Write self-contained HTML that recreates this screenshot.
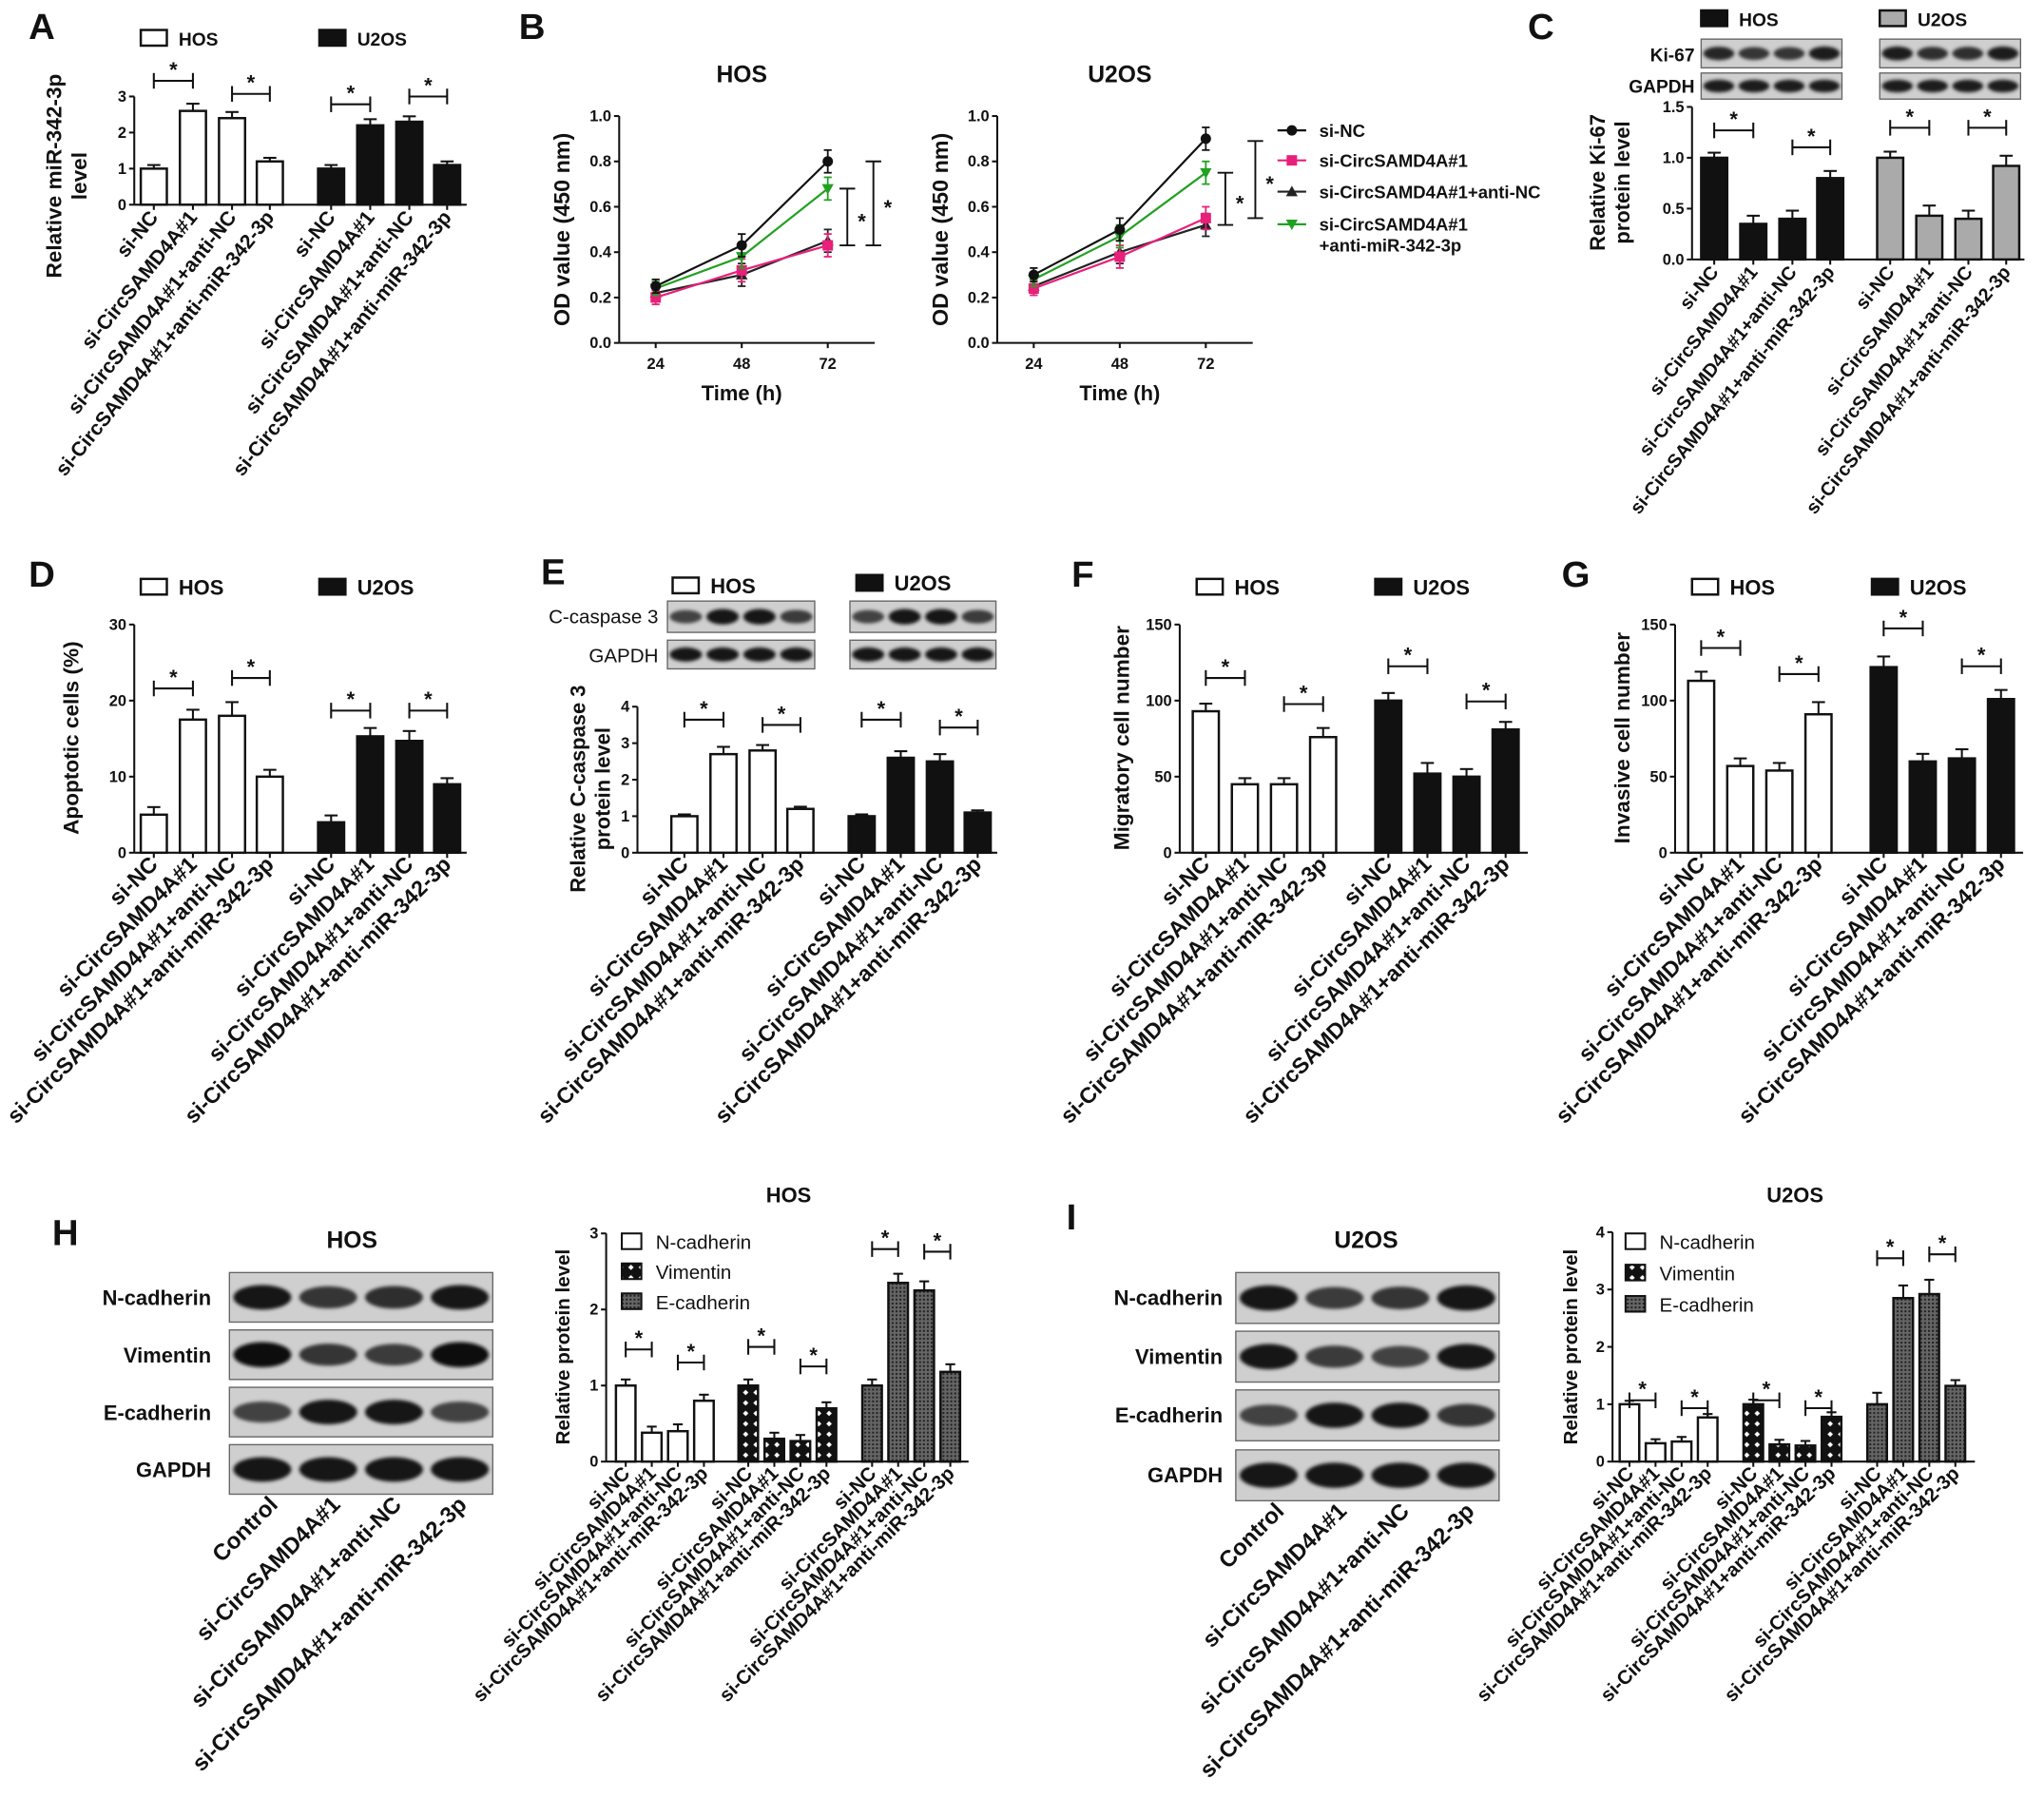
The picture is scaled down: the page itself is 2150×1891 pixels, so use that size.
<!DOCTYPE html>
<html><head><meta charset="utf-8">
<style>
html,body{margin:0;padding:0;background:#fff;}
svg{display:block;}
text{font-family:"Liberation Sans",Arial,sans-serif;fill:#111;}
</style></head>
<body>
<svg id="fig" xmlns="http://www.w3.org/2000/svg" width="2150" height="1891" viewBox="0 0 1568 1379" preserveAspectRatio="none">
<defs>
<pattern id="pv" width="8" height="8" patternUnits="userSpaceOnUse"><rect width="8" height="8" fill="#111"/><rect x="2.5" y="2.5" width="3" height="3" fill="#fff" transform="rotate(45 4 4)"/></pattern>
<pattern id="pe" width="3" height="3" patternUnits="userSpaceOnUse"><rect width="3" height="3" fill="#666"/><rect width="1.5" height="1.5" fill="#222"/></pattern>
<filter id="blur" x="-20%" y="-50%" width="140%" height="200%"><feGaussianBlur stdDeviation="1.3"/></filter>
</defs>
<g id="root"></g>
</svg>
<script>
const NS="http://www.w3.org/2000/svg";
const root=document.getElementById('root');
const cats=["si-NC","si-CircSAMD4A#1","si-CircSAMD4A#1+anti-NC","si-CircSAMD4A#1+anti-miR-342-3p"];
const blotCats=["Control","si-CircSAMD4A#1","si-CircSAMD4A#1+anti-NC","si-CircSAMD4A#1+anti-miR-342-3p"];
// Panel A
const aHOS=[1.0,2.6,2.4,1.2], aHOSerr=[0.1,0.2,0.17,0.1];
const aU2OS=[1.0,2.2,2.3,1.1], aU2OSerr=[0.1,0.17,0.15,0.1];
const aTicks=[0,1,2,3];
// Panel C
const cHOS=[1.0,0.35,0.40,0.80], cHOSerr=[0.05,0.08,0.08,0.07];
const cU2OS=[1.0,0.43,0.40,0.92], cU2OSerr=[0.06,0.1,0.08,0.1];
const cTicks=[0,0.5,1.0,1.5];
// Panel D
const dHOS=[5,17.5,18,10], dHOSerr=[1,1.3,1.8,0.9];
const dU2OS=[4,15.3,14.7,9], dU2OSerr=[0.9,1.1,1.3,0.8];
const dTicks=[0,10,20,30];
// Panel E
const eHOS=[1.0,2.7,2.8,1.2], eHOSerr=[0.05,0.2,0.15,0.06];
const eU2OS=[1.0,2.6,2.5,1.1], eU2OSerr=[0.05,0.18,0.2,0.06];
const eTicks=[0,1,2,3,4];
// Panel F
const fHOS=[93,45,45,76], fHOSerr=[5,4,4,6];
const fU2OS=[100,52,50,81], fU2OSerr=[5,7,5,5];
const fTicks=[0,50,100,150];
// Panel G
const gHOS=[113,57,54,91], gHOSerr=[6,5,5,8];
const gU2OS=[122,60,62,101], gU2OSerr=[7,5,6,6];
const gTicks=[0,50,100,150];
// Panel H
const hN=[1.0,0.38,0.40,0.80], hNerr=[0.08,0.08,0.09,0.08];
const hV=[1.0,0.30,0.27,0.70], hVerr=[0.08,0.08,0.08,0.08];
const hE=[1.0,2.35,2.25,1.18], hEerr=[0.08,0.12,0.12,0.1];
const hTicks=[0,1,2,3];
// Panel I
const iN=[1.0,0.32,0.35,0.77], iNerr=[0.06,0.07,0.08,0.06];
const iV=[1.0,0.30,0.28,0.78], iVerr=[0.08,0.08,0.08,0.08];
const iE=[1.0,2.85,2.92,1.32], iEerr=[0.2,0.22,0.25,0.1];
const iTicks=[0,1,2,3,4];
// Panel B
const times=[24,48,72];
const bHOSnc=[0.25,0.43,0.80], bHOSsi=[0.20,0.32,0.43], bHOSanc=[0.22,0.30,0.45], bHOSami=[0.24,0.38,0.68];
const bU2nc=[0.30,0.50,0.90], bU2si=[0.24,0.38,0.55], bU2anc=[0.25,0.40,0.52], bU2ami=[0.28,0.47,0.75];
const bErr=[0.03,0.05,0.05];
const bTicks=[0,0.2,0.4,0.6,0.8,1.0];

function el(tag,attrs,parent,txt){const e=document.createElementNS(NS,tag);for(const k in attrs)e.setAttribute(k,attrs[k]);if(txt!==undefined)e.textContent=txt;(parent||root).appendChild(e);return e;}
function line(x1,y1,x2,y2,w,c){return el('line',{x1,y1,x2,y2,stroke:c||'#111','stroke-width':w||1.5});}
function txt(x,y,s,size,opts){opts=opts||{};const t=el('text',Object.assign({x,y,'font-size':size,'font-weight':opts.fw||'bold','text-anchor':opts.anchor||'start'},opts.tr?{transform:opts.tr}:{}),opts.parent,s);

return t;}

function yAxis(ax,y0,yTop,vmax,ticks,fmt){
  const g=el('g',{});
  
  
  const sy=v=>y0-(v/vmax)*(y0-yTop);
  el('line',{x1:ax,y1:sy(ticks[ticks.length-1]),x2:ax,y2:y0,stroke:'#111','stroke-width':1.5},g);
  ticks.forEach(t=>{el('line',{x1:ax-4,y1:sy(t),x2:ax,y2:sy(t),stroke:'#111','stroke-width':1.5},g);
    const l=el('text',{x:ax-6,y:sy(t)+4,'font-size':12,'font-weight':'bold','text-anchor':'end'},g,fmt?fmt(t):t);
    
    });
  return sy;
}
function bars(xs,vals,errs,sy,w,fill,name){
  xs.forEach((x,i)=>{
    const y=sy(vals[i]);const ye=sy(vals[i]+errs[i]);
    line(x,ye,x,y,1.5);line(x-w/4,ye,x+w/4,ye,1.5);
    const r=el('rect',{x:x-w/2,y:y,width:w,height:sy(0)-y,fill:fill,stroke:'#111','stroke-width':1.8});
    
    
  });
}
function sig(x1,x2,y){line(x1,y,x2,y,1.5);line(x1,y-6,x1,y+6,1.5);line(x2,y-6,x2,y+6,1.5);
  txt((x1+x2)/2,y-3,'*',16,{anchor:'middle',name:'significance-star'});}
function catLabels(xs,y,labels,size,ang){ang=ang||45;xs.forEach((x,i)=>{txt(x+4,y,labels[i],size,{anchor:'end',tr:`rotate(-${ang} ${x+4} ${y})`,name:'category-label'});});}
function legendBox(x,y,fill,label,size){const r=el('rect',{x,y,width:20,height:12,fill,stroke:'#111','stroke-width':1.8});
  
  
  txt(x+29,y+12,label,size||15,{fw:'bold',name:'legend-label'});}
function xAxis(x1,x2,y,ticksX){line(x1,y,x2,y,1.5);(ticksX||[]).forEach(x=>line(x,y,x,y+4,1.5));}
function ytitle(x,y,lines,size){lines.forEach((s,i)=>txt(x+i*(size+3),y,s,size,{anchor:'middle',tr:`rotate(-90 ${x+i*(size+3)} ${y})`,name:'y-axis-title'}));}
function blot(x,y,w,h,intens){const r=el('rect',{x,y,width:w,height:h,fill:'#cfcfcf',stroke:'#666','stroke-width':1});
  
  
  const n=intens.length;const lw=w/n;
  intens.forEach((v,i)=>{const c=Math.round(150-140*v);el('ellipse',{cx:x+lw*(i+0.5),cy:y+h/2,rx:lw*0.44,ry:h*0.14+h*0.12*v,fill:`rgb(${c},${c},${c})`,filter:'url(#blur)'});});}
function groupChart(cfg){
  const sy=yAxis(cfg.ax,cfg.y0,cfg.yTop,cfg.vmax,cfg.ticks,cfg.fmt);
  const all=cfg.groups.flatMap(g=>g.xs);
  xAxis(cfg.ax,cfg.xEnd,cfg.y0,all);
  cfg.groups.forEach(g=>bars(g.xs,g.vals,g.errs,sy,cfg.w,g.fill,g.name));
  cfg.sigs.forEach(s=>sig(s[0],s[1],s[2]));
  cfg.groups.forEach(g=>catLabels(g.xs,cfg.y0+10,g.labels||cats,cfg.lsize||12.5,cfg.ang));
  return sy;
}
// Panel letters
[['A',22,30],['B',398,30],['C',1172,30],['D',22,450],['E',415,448],['F',822,450],['G',1198,450],['H',40,955],['I',818,943]].forEach(p=>txt(p[1],p[2],p[0],28,{name:'panel-letter-'+p[0].toLowerCase()}));

// A
legendBox(108,23,'#fff','HOS',14);legendBox(245,23,'#111','U2OS',14);
ytitle(47,135,['Relative miR-342-3p','level'],16.5);
groupChart({ax:103,y0:157,yTop:74,vmax:3,ticks:aTicks,xEnd:358,w:20,
 groups:[{xs:[118,148,178,207],vals:aHOS,errs:aHOSerr,fill:'#fff',name:'a-hos'},{xs:[254,284,314,343],vals:aU2OS,errs:aU2OSerr,fill:'#111',name:'a-u2os'}],
 sigs:[[118,148,62],[178,207,72],[254,284,80],[314,343,74]],lsize:15.5,ang:51});

// B
function lineChart(ax,xs,y0,yTop,title,series){
  const sy=yAxis(ax,y0,yTop,1,bTicks,t=>t.toFixed(1));
  const sx=t=>xs[0]+(t-24)/24*(xs[1]-xs[0]);
  xAxis(ax,sx(72)+36,y0,times.map(sx));
  times.forEach(t=>txt(sx(t),y0+20,t,12,{anchor:'middle',name:'x-tick-label'}));
  txt(sx(48),y0+44,'Time (h)',16,{anchor:'middle',name:'x-axis-title'});
  txt(sx(48),63,title,18,{anchor:'middle',name:'chart-title'});
  ytitle(ax-38,(y0+yTop)/2,['OD value (450 nm)'],17);
  series.forEach(s=>{
    const p=el('polyline',{points:s.v.map((v,i)=>sx(times[i])+','+sy(v)).join(' '),fill:'none',stroke:s.c,'stroke-width':1.6});
    
    
    s.v.forEach((v,i)=>{const x=sx(times[i]),y=sy(v);line(x,sy(v+bErr[i]),x,sy(v-bErr[i]),1.3,s.c);line(x-3,sy(v+bErr[i]),x+3,sy(v+bErr[i]),1.3,s.c);line(x-3,sy(v-bErr[i]),x+3,sy(v-bErr[i]),1.3,s.c);
      marker(x,y,s.m,s.c);});
  });
  return sy;
}
function marker(x,y,m,c){let e;
  if(m==='o')e=el('circle',{cx:x,cy:y,r:4,fill:c});
  else if(m==='s')e=el('rect',{x:x-4,y:y-4,width:8,height:8,fill:c});
  else if(m==='^')e=el('polygon',{points:`${x},${y-4.5} ${x-4.5},${y+3.5} ${x+4.5},${y+3.5}`,fill:c});
  else e=el('polygon',{points:`${x},${y+4.5} ${x-4.5},${y-3.5} ${x+4.5},${y-3.5}`,fill:c});
  
  }
const C_NC='#111',C_SI='#e8207a',C_ANC='#222',C_AMI='#22a022';
const sy1=lineChart(475,[503,569],263,89,'HOS',[{v:bHOSanc,c:C_ANC,m:'^',n:'hos-anti-nc'},{v:bHOSsi,c:C_SI,m:'s',n:'hos-si'},{v:bHOSami,c:C_AMI,m:'v',n:'hos-anti-mir'},{v:bHOSnc,c:C_NC,m:'o',n:'hos-si-nc'}]);
function vsig(x,v1,v2,sy){line(x,sy(v1),x,sy(v2),1.4);line(x-6,sy(v1),x+6,sy(v1),1.4);line(x-6,sy(v2),x+6,sy(v2),1.4);txt(x+8,(sy(v1)+sy(v2))/2+9,'*',16,{name:'significance-star'});}
vsig(650,bHOSami[2],bHOSanc[2]-0.02,sy1);vsig(670,bHOSnc[2],bHOSanc[2]-0.02,sy1);
const sy2=lineChart(765,[793,859],263,89,'U2OS',[{v:bU2anc,c:C_ANC,m:'^',n:'u2os-anti-nc'},{v:bU2si,c:C_SI,m:'s',n:'u2os-si'},{v:bU2ami,c:C_AMI,m:'v',n:'u2os-anti-mir'},{v:bU2nc,c:C_NC,m:'o',n:'u2os-si-nc'}]);
vsig(940,bU2ami[2],bU2anc[2],sy2);vsig(963,bU2nc[2]-0.01,bU2si[2],sy2);
[[100,C_NC,'o','si-NC'],[123,C_SI,'s','si-CircSAMD4A#1'],[147,C_ANC,'^','si-CircSAMD4A#1+anti-NC'],[172,C_AMI,'v','si-CircSAMD4A#1']].forEach(l=>{line(980,l[0],1002,l[0],1.6,l[1]);marker(991,l[0],l[2],l[1]);txt(1012,l[0]+5,l[3],13.5,{name:'legend-label'});});
txt(1012,193,'+anti-miR-342-3p',13.5,{name:'legend-label'});

// C
legendBox(1305,8,'#111','HOS',14);legendBox(1442,8,'#aaa','U2OS',14);
txt(1300,47,'Ki-67',14,{anchor:'end',name:'blot-label'});txt(1300,71,'GAPDH',14,{anchor:'end',name:'blot-label'});
blot(1305,30,108,22,[0.8,0.7,0.7,0.85]);blot(1442,30,108,22,[0.85,0.75,0.75,0.85]);
blot(1305,56,108,20,[0.85,0.85,0.85,0.85]);blot(1442,56,108,20,[0.85,0.85,0.85,0.85]);
ytitle(1231,140,['Relative Ki-67','protein level'],16);
groupChart({ax:1298,y0:199,yTop:82,vmax:1.5,ticks:cTicks,fmt:t=>t.toFixed(1),xEnd:1553,w:20,
 groups:[{xs:[1315,1345,1375,1404],vals:cHOS,errs:cHOSerr,fill:'#111',name:'c-hos'},{xs:[1450,1480,1510,1539],vals:cU2OS,errs:cU2OSerr,fill:'#aaa',name:'c-u2os'}],
 sigs:[[1315,1345,100],[1375,1404,113],[1450,1480,98],[1510,1539,98]],lsize:14.5,ang:51});

// D
legendBox(108,444,'#fff','HOS',16);legendBox(245,444,'#111','U2OS',16);
ytitle(60,566,['Apoptotic cells (%)'],16.5);
groupChart({ax:103,y0:654,yTop:479,vmax:30,ticks:dTicks,xEnd:358,w:20,
 groups:[{xs:[118,148,178,207],vals:dHOS,errs:dHOSerr,fill:'#fff',name:'d-hos'},{xs:[254,284,314,343],vals:dU2OS,errs:dU2OSerr,fill:'#111',name:'d-u2os'}],
 sigs:[[118,148,528],[178,207,520],[254,284,545],[314,343,545]],lsize:17});

// E
legendBox(516,443,'#fff','HOS',16);legendBox(657,441,'#111','U2OS',16);
txt(505,478,'C-caspase 3',15,{anchor:'end',fw:'normal',name:'blot-label'});txt(505,508,'GAPDH',15,{anchor:'end',fw:'normal',name:'blot-label'});
blot(512,461,113,24,[0.6,0.9,0.9,0.65]);blot(652,461,112,24,[0.6,0.9,0.9,0.65]);
blot(512,491,113,22,[0.9,0.9,0.9,0.9]);blot(652,491,112,22,[0.9,0.9,0.9,0.9]);
ytitle(449,605,['Relative C-caspase 3','protein level'],16);
groupChart({ax:489,y0:654,yTop:542,vmax:4,ticks:eTicks,xEnd:765,w:20,
 groups:[{xs:[525,555,585,614],vals:eHOS,errs:eHOSerr,fill:'#fff',name:'e-hos'},{xs:[661,691,721,750],vals:eU2OS,errs:eU2OSerr,fill:'#111',name:'e-u2os'}],
 sigs:[[525,555,552],[585,614,556],[661,691,552],[721,750,558]],lsize:17});

// F
legendBox(918,444,'#fff','HOS',16);legendBox(1055,444,'#111','U2OS',16);
ytitle(866,566,['Migratory cell number'],16.5);
groupChart({ax:905,y0:654,yTop:479,vmax:150,ticks:fTicks,xEnd:1172,w:20,
 groups:[{xs:[925,955,985,1015],vals:fHOS,errs:fHOSerr,fill:'#fff',name:'f-hos'},{xs:[1065,1095,1125,1155],vals:fU2OS,errs:fU2OSerr,fill:'#111',name:'f-u2os'}],
 sigs:[[925,955,520],[985,1015,540],[1065,1095,511],[1125,1155,538]],lsize:17});

// G
legendBox(1298,444,'#fff','HOS',16);legendBox(1436,444,'#111','U2OS',16);
ytitle(1250,566,['Invasive cell number'],16.5);
groupChart({ax:1285,y0:654,yTop:479,vmax:150,ticks:gTicks,xEnd:1552,w:20,
 groups:[{xs:[1305,1335,1365,1395],vals:gHOS,errs:gHOSerr,fill:'#fff',name:'g-hos'},{xs:[1445,1475,1505,1535],vals:gU2OS,errs:gU2OSerr,fill:'#111',name:'g-u2os'}],
 sigs:[[1305,1335,497],[1365,1395,517],[1445,1475,482],[1505,1535,511]],lsize:17});

// H blots
txt(270,957,'HOS',18,{anchor:'middle',name:'blot-title'});
const hRows=['N-cadherin','Vimentin','E-cadherin','GAPDH'];
const hInt=[[0.9,0.7,0.75,0.9],[0.95,0.7,0.65,0.95],[0.6,0.9,0.9,0.6],[0.9,0.9,0.9,0.9]];
[976,1020,1064,1108].forEach((y,i)=>{blot(176,y,202,38,hInt[i]);txt(162,y+25,hRows[i],16,{anchor:'end',name:'blot-label'});});
catLabels([210,258,305,355],1155,blotCats,17.5);
// H chart
txt(605,922,'HOS',16,{anchor:'middle',name:'chart-title'});
ytitle(437,1033,['Relative protein level'],15);
groupChart({ax:465,y0:1121,yTop:946,vmax:3,ticks:hTicks,xEnd:743,w:15,
 groups:[{xs:[480,500,520,540],vals:hN,errs:hNerr,fill:'#fff',name:'h-n-cadherin'},{xs:[574,594,614,634],vals:hV,errs:hVerr,fill:'url(#pv)',name:'h-vimentin'},{xs:[669,689,709,729],vals:hE,errs:hEerr,fill:'url(#pe)',name:'h-e-cadherin'}],
 sigs:[[480,500,1035],[520,540,1045],[574,594,1033],[614,634,1048],[669,689,958],[709,729,960]],lsize:15});
[['#fff','N-cadherin',946],['url(#pv)','Vimentin',969],['url(#pe)','E-cadherin',992]].forEach(l=>{const r=el('rect',{x:477,y:l[2],width:15,height:12,fill:l[0],stroke:'#111','stroke-width':1.5});
  
  
  txt(503,l[2]+12,l[1],15,{fw:'normal',name:'legend-label'});});

// I blots
txt(1048,957,'U2OS',18,{anchor:'middle',name:'blot-title'});
const iInt=[[0.9,0.65,0.7,0.9],[0.9,0.65,0.6,0.9],[0.6,0.9,0.9,0.7],[0.9,0.9,0.9,0.9]];
[976,1021,1066,1112].forEach((y,i)=>{blot(948,y,202,39,iInt[i]);txt(938,y+25,hRows[i],16,{anchor:'end',name:'blot-label'});});
catLabels([982,1030,1078,1128],1160,blotCats,17.5);
// I chart
txt(1377,922,'U2OS',16,{anchor:'middle',name:'chart-title'});
ytitle(1210,1033,['Relative protein level'],15);
groupChart({ax:1237,y0:1121,yTop:945,vmax:4,ticks:iTicks,xEnd:1515,w:15,
 groups:[{xs:[1250,1270,1290,1310],vals:iN,errs:iNerr,fill:'#fff',name:'i-n-cadherin'},{xs:[1345,1365,1385,1405],vals:iV,errs:iVerr,fill:'url(#pv)',name:'i-vimentin'},{xs:[1440,1460,1480,1500],vals:iE,errs:iEerr,fill:'url(#pe)',name:'i-e-cadherin'}],
 sigs:[[1250,1270,1074],[1290,1310,1080],[1345,1365,1074],[1385,1405,1080],[1440,1460,965],[1480,1500,962]],lsize:15});
[['#fff','N-cadherin',946],['url(#pv)','Vimentin',970],['url(#pe)','E-cadherin',994]].forEach(l=>{const r=el('rect',{x:1247,y:l[2],width:15,height:12,fill:l[0],stroke:'#111','stroke-width':1.5});
  
  
  txt(1273,l[2]+12,l[1],15,{fw:'normal',name:'legend-label'});});
</script>
</body></html>
